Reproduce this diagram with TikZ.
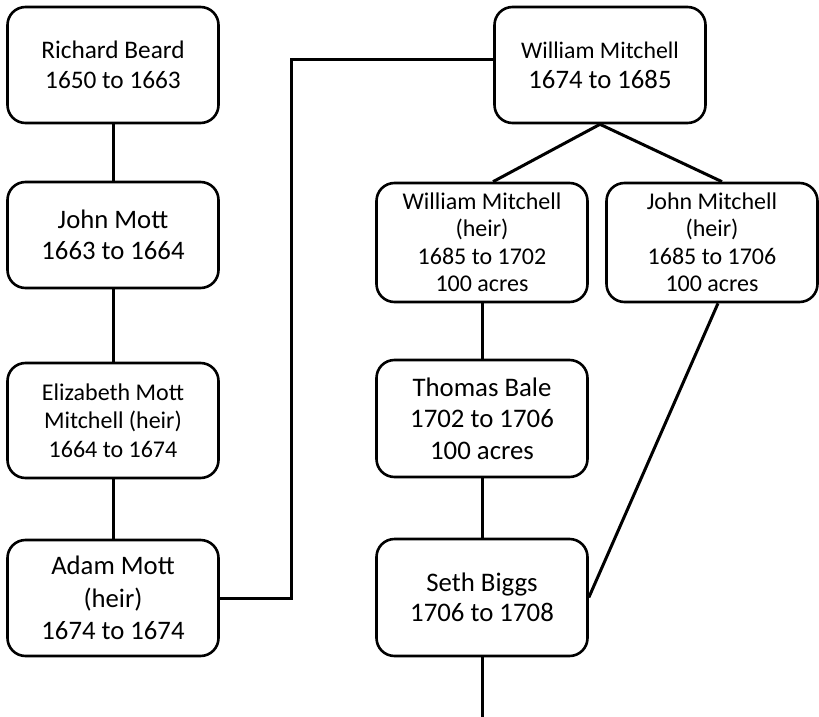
\documentclass[tikz,border=0pt]{standalone}
\usepackage{fontspec}
\setmainfont{Carlito}
\begin{document}
\begin{tikzpicture}[x=1pt,y=-1pt,
  box/.style={draw, line width=2.6pt, rounded corners=18pt, align=center,
    inner sep=0pt, minimum width=211pt, fill=white},
  big/.style={font=\fontsize{26.7}{31}\selectfont},
  mid/.style={font=\fontsize{25.3}{30}\selectfont},
  small/.style={font=\fontsize{24}{28.5}\selectfont},
  conn/.style={line width=3pt}]
\useasboundingbox (0,0) rectangle (819,717);
\node[box, mid, minimum height=116pt] (rb) at (113,65) {Richard Beard\\1650 to 1663};
\node[box, big, minimum height=106pt] (jm) at (113,235) {John Mott\\1663 to 1664};
\node[box, small, minimum height=115pt] (em) at (113,420.5) {Elizabeth Mott\\Mitchell (heir)\\1664 to 1674};
\node[box, font=\fontsize{26.7}{32.5}\selectfont, minimum height=116pt] (am) at (113,598) {Adam Mott\\(heir)\\1674 to 1674};
\node[box, font=\fontsize{26.7}{30}\selectfont, minimum height=116pt] (wm) at (600,65) {{\fontsize{23.8}{30}\selectfont William Mitchell}\\1674 to 1685};
\node[box, font=\fontsize{24}{27.5}\selectfont, minimum height=119pt] (wmh) at (482,242.5) {William Mitchell\\(heir)\\1685 to 1702\\100 acres};
\node[box, font=\fontsize{24}{27.5}\selectfont, minimum height=119pt] (jmh) at (712,242.5) {John Mitchell\\(heir)\\1685 to 1706\\100 acres};
\node[box, font=\fontsize{26.8}{31.5}\selectfont, minimum height=117pt] (tb) at (482,418.5) {Thomas Bale\\1702 to 1706\\100 acres};
\node[box, font=\fontsize{26.8}{30.5}\selectfont, minimum height=117pt] (sb) at (482,597.5) {Seth Biggs\\1706 to 1708};
\coordinate (bend) at (291,60);
\coordinate (end) at (482,717);
\draw[conn] (rb.south) -- (jm.north);
\draw[conn] (jm.south) -- (em.north);
\draw[conn] (em.south) -- (am.north);
\draw[conn] (am.east) -- (am.east -| bend) -- (bend) -- (bend -| wm.west);
\draw[conn] (wm.south) -- ([xshift=11pt]wmh.north);
\draw[conn] (wm.south) -- ([xshift=10pt]jmh.north);
\draw[conn] (wmh.south) -- (tb.north);
\draw[conn] (tb.south) -- (sb.north);
\draw[conn] (sb.south) -- (end);
\draw[conn] ([xshift=6pt]jmh.south) -- (sb.east);
\end{tikzpicture}
\end{document}
